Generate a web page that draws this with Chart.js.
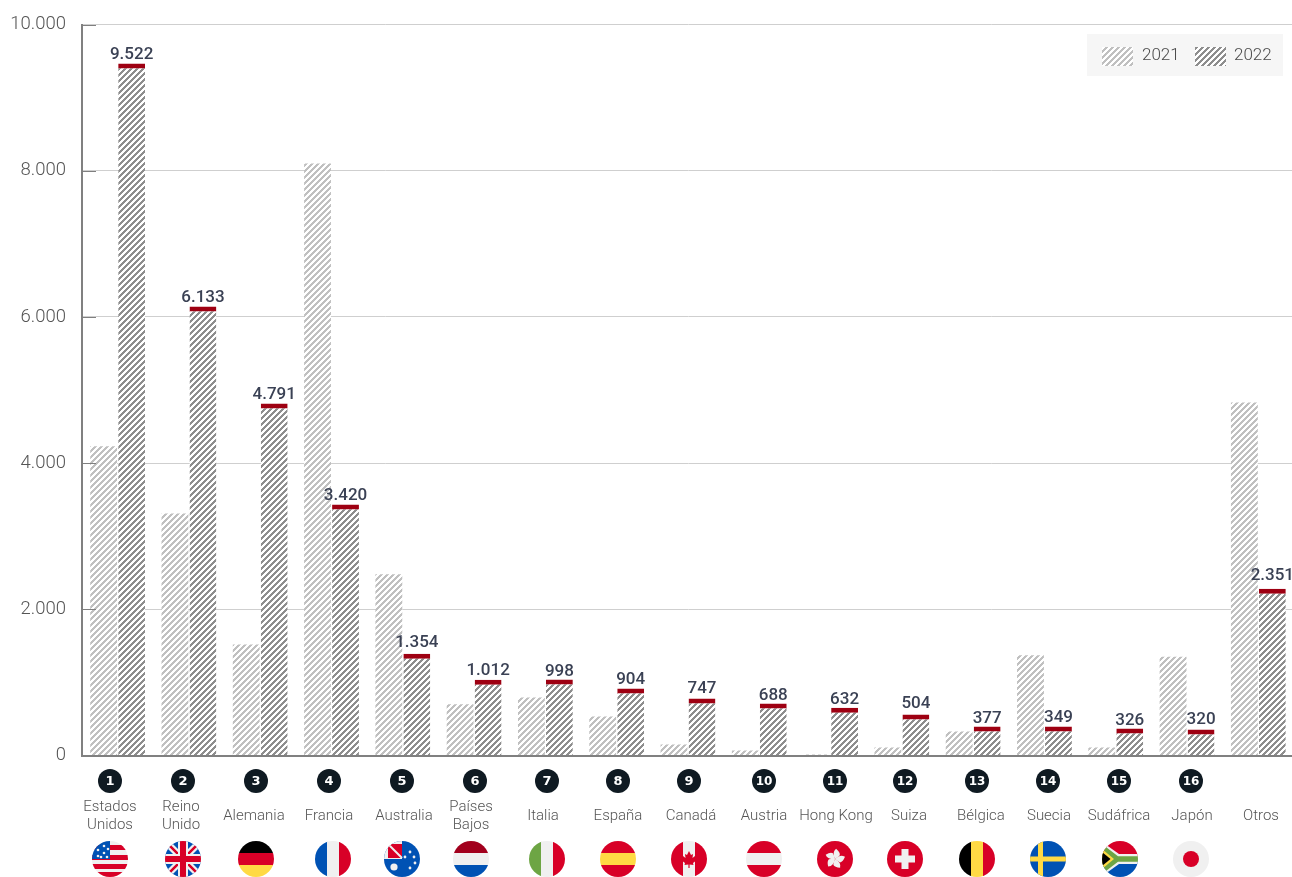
<!DOCTYPE html>
<html lang="es">
<head>
<meta charset="utf-8">
<title>Ventas por país</title>
<script src="https://cdn.jsdelivr.net/npm/chart.js@4/dist/chart.umd.min.js"></script>
<style>
  html, body { margin: 0; padding: 0; background: #fff; overflow: hidden; }
  #wrap { width: 1292px; height: 877px; overflow: hidden; }
  canvas { display: block; }
</style>
</head>
<body>
<div id="wrap"><canvas id="chart" width="1294" height="877"></canvas></div>
<script>
const categories = [['Estados', 'Unidos'], ['Reino', 'Unido'], ['Alemania'], ['Francia'], ['Australia'], ['Países', 'Bajos'], ['Italia'], ['España'], ['Canadá'], ['Austria'], ['Hong Kong'], ['Suiza'], ['Bélgica'], ['Suecia'], ['Sudáfrica'], ['Japón'], ['Otros']];
const values2021 = [4230, 3310, 1520, 8100, 2480, 700, 795, 535, 150, 70, 15, 110, 330, 1370, 110, 1350, 4830];
// bar heights as drawn in the picture; the printed labels differ slightly from them
const values2022 = [9466, 6142, 4815, 3433, 1391, 1035, 1040, 917, 780, 711, 652, 561, 397, 397, 369, 356, 2280];
const printed2022 = [9522, 6133, 4791, 3420, 1354, 1012, 998, 904, 747, 688, 632, 504, 377, 349, 326, 320, 2351];
const yTicks = [0, 2000, 4000, 6000, 8000, 10000];
const seriesNames = ['2021', '2022'];

// hand placed captions under the axis do not sit exactly on the bar groups
const labelX = [110, 181, 254, 329, 404, 471, 543, 618, 691, 764, 836, 909, 981, 1049, 1119, 1192, 1261];
const badgeX = [110, 183, 256, 329, 402, 475, 547, 618, 689, 764, 835, 905, 977, 1048, 1119, 1191];
const flagX = [110, 183, 256, 333, 402, 471, 547, 618, 689, 764, 835, 905, 977, 1048, 1120, 1191];
// distance from the top of a 2022 bar to the baseline of its label
const labelGap = [5, 5, 5, 5, 6.6, 5, 3, 4, 5, 4, 4, 6.3, 3.3, 4, 4, 5, 9.3];

const RED = '#d80027', WHITE = '#f0f0f0', BLUE = '#0052b4', YELLOW = '#ffda44', GREEN = '#6da544';

function formatNumber(n) {
  return String(n).replace(/\B(?=(\d{3})+$)/g, '.');
}

function hatch(color) {
  const tile = document.createElement('canvas');
  tile.width = tile.height = 6;
  const c = tile.getContext('2d');
  c.fillStyle = '#fff';
  c.fillRect(0, 0, 6, 6);
  c.fillStyle = color;
  for (let x = 0; x < 6; x++) {
    for (let y = 0; y < 6; y++) {
      if ((x + y) % 6 < 3) c.fillRect(x, y, 1, 1);
    }
  }
  return c.createPattern(tile, 'repeat');
}

function hBands(c, colors) {
  const h = 36 / colors.length;
  colors.forEach((col, i) => { c.fillStyle = col; c.fillRect(-18, -18 + i * h, 36, h + 0.5); });
}

function vBands(c, colors) {
  const w = 36 / colors.length;
  colors.forEach((col, i) => { c.fillStyle = col; c.fillRect(-18 + i * w, -18, w + 0.5, 36); });
}

function dot(c, x, y, r, col) {
  c.fillStyle = col;
  c.beginPath();
  c.arc(x, y, r, 0, Math.PI * 2);
  c.fill();
}

function poly(c, col, pts) {
  c.fillStyle = col;
  c.beginPath();
  pts.forEach(([x, y], i) => (i ? c.lineTo(x, y) : c.moveTo(x, y)));
  c.closePath();
  c.fill();
}

const flags = [
  function us(c) {
    c.fillStyle = WHITE; c.fillRect(-18, -18, 36, 36);
    c.fillStyle = RED;
    [[-14, 5], [-4, 5], [5, 5], [13, 5]].forEach(([y, h]) => c.fillRect(-18, y, 36, h));
    c.fillStyle = BLUE; c.fillRect(-18, -18, 18, 18);
    [[-12, -9], [-6, -13], [-6, -6], [-12, -3], [-3, -2], [-9, -2], [-2, -10]].forEach(([x, y]) => dot(c, x, y, 1.3, WHITE));
  },
  function uk(c) {
    c.fillStyle = BLUE; c.fillRect(-18, -18, 36, 36);
    c.strokeStyle = WHITE; c.lineWidth = 7;
    c.beginPath(); c.moveTo(-18, -18); c.lineTo(18, 18); c.moveTo(18, -18); c.lineTo(-18, 18); c.stroke();
    c.strokeStyle = RED; c.lineWidth = 2.5;
    c.beginPath(); c.moveTo(-18, -18); c.lineTo(18, 18); c.moveTo(18, -18); c.lineTo(-18, 18); c.stroke();
    c.fillStyle = WHITE; c.fillRect(-5, -18, 10, 36); c.fillRect(-18, -5, 36, 10);
    c.fillStyle = RED; c.fillRect(-3, -18, 6, 36); c.fillRect(-18, -3, 36, 6);
  },
  c => hBands(c, ['#000', RED, YELLOW]),
  c => vBands(c, [BLUE, WHITE, RED]),
  function au(c) {
    c.fillStyle = BLUE; c.fillRect(-18, -18, 36, 36);
    c.fillStyle = WHITE; c.fillRect(-18, -18, 18, 18);
    poly(c, RED, [[-14, -15], [0, -15], [0, -1], [-14, -1]]);
    c.strokeStyle = WHITE; c.lineWidth = 2;
    c.beginPath(); c.moveTo(-13, -14); c.lineTo(0, -1); c.stroke();
    [[8, -7], [3, -2], [12, -2], [8, 9], [13, 4]].forEach(([x, y]) => dot(c, x, y, 1.4, WHITE));
    dot(c, -8, 8, 3.6, WHITE);
  },
  c => hBands(c, ['#a2001d', WHITE, BLUE]),
  c => vBands(c, [GREEN, WHITE, RED]),
  c => { hBands(c, [RED, YELLOW, RED]); },
  function ca(c) {
    vBands(c, [RED, WHITE, RED]);
    poly(c, RED, [[0, -8], [2, -4], [4, -5], [3.5, -1], [6, -3], [7, 0], [8, 1], [4, 4], [4.5, 6], [0.6, 5.5], [0.6, 9], [-0.6, 9], [-0.6, 5.5], [-4.5, 6], [-4, 4], [-8, 1], [-7, 0], [-6, -3], [-3.5, -1], [-4, -5], [-2, -4]]);
  },
  c => hBands(c, [RED, WHITE, RED]),
  function hk(c) {
    c.fillStyle = RED; c.fillRect(-18, -18, 36, 36);
    c.fillStyle = WHITE;
    for (let i = 0; i < 5; i++) {
      c.save();
      c.rotate((i * 2 * Math.PI) / 5 + 0.3);
      c.beginPath();
      c.moveTo(0, 0);
      c.quadraticCurveTo(-5, -5, -2, -10);
      c.quadraticCurveTo(3, -8, 3.5, -5);
      c.quadraticCurveTo(2, -2, 0, 0);
      c.fill();
      c.restore();
    }
  },
  function ch(c) {
    c.fillStyle = RED; c.fillRect(-18, -18, 36, 36);
    c.fillStyle = WHITE; c.fillRect(-3.5, -10, 7, 20); c.fillRect(-10, -3.5, 20, 7);
  },
  c => vBands(c, ['#000', YELLOW, RED]),
  function se(c) {
    c.fillStyle = BLUE; c.fillRect(-18, -18, 36, 36);
    c.fillStyle = YELLOW; c.fillRect(-10, -18, 5, 36); c.fillRect(-18, -2.5, 36, 5);
  },
  function za(c) {
    c.fillStyle = RED; c.fillRect(-18, -18, 36, 18);
    c.fillStyle = BLUE; c.fillRect(-18, 0, 36, 18);
    poly(c, WHITE, [[-15, -15], [-1, -5], [18, -5], [18, 5], [-1, 5], [-15, 15]]);
    poly(c, GREEN, [[-18, -15], [-2, -2.8], [18, -2.8], [18, 2.8], [-2, 2.8], [-18, 15]]);
    poly(c, YELLOW, [[-18, -10], [-6, 0], [-18, 10]]);
    poly(c, '#000', [[-18, -7], [-9.5, 0], [-18, 7]]);
  },
  function jp(c) {
    c.fillStyle = WHITE; c.fillRect(-18, -18, 36, 36);
    dot(c, 0, 0, 8, RED);
  }
];

const decorations = {
  id: 'decorations',
  afterDraw(chart) {
    const c = chart.ctx;
    const { left } = chart.chartArea;
    c.save();

    // short darker tick just inside the axis
    const yScale = chart.scales.y;
    c.strokeStyle = '#7f7f7f';
    c.lineWidth = 1;
    yTicks.slice(1).forEach((t) => {
      const y = Math.round(yScale.getPixelForValue(t)) + 0.5;
      c.beginPath();
      c.moveTo(left, y);
      c.lineTo(left + 14, y);
      c.stroke();
    });

    // value labels on the 2022 bars
    c.font = '500 17px Roboto, sans-serif';
    c.fillStyle = '#3a4154';
    c.textAlign = 'center';
    c.textBaseline = 'alphabetic';
    chart.getDatasetMeta(1).data.forEach((bar, i) => {
      c.fillText(formatNumber(printed2022[i]), bar.x, bar.y - labelGap[i]);
    });

    // category captions
    c.textBaseline = 'middle';
    c.font = '300 15px Roboto, sans-serif';
    c.fillStyle = '#555';
    categories.forEach((lines, i) => {
      const top = lines.length === 2 ? 807 : 816;
      lines.forEach((line, k) => c.fillText(line, labelX[i], top + k * 18));
    });

    // ranking badges
    badgeX.forEach((x, i) => {
      dot(c, x, 781, 12, '#0f1a22');
      c.fillStyle = '#fff';
      c.font = `bold ${i < 9 ? 13 : 12}px "DejaVu Sans", sans-serif`;
      c.fillText(String(i + 1), x, 781.5);
    });

    // flags
    flagX.forEach((x, i) => {
      c.save();
      c.translate(x, 859);
      c.beginPath();
      c.arc(0, 0, 18, 0, Math.PI * 2);
      c.clip();
      flags[i](c);
      c.restore();
    });

    // legend box
    c.fillStyle = '#f6f6f6';
    c.fillRect(1087, 34, 196, 42);
    c.font = '300 17px Roboto, sans-serif';
    c.textAlign = 'left';
    [[1102, 1142], [1195, 1234]].forEach(([boxX, textX], i) => {
      c.fillStyle = chart.data.datasets[i].backgroundColor;
      c.fillRect(boxX, 47, 31, 19);
      c.fillStyle = '#4a4a4a';
      c.fillText(seriesNames[i], textX, 56);
    });
    c.restore();
  }
};

new Chart(document.getElementById('chart'), {
  type: 'bar',
  data: {
    labels: categories,
    datasets: [
      {
        label: seriesNames[0],
        data: values2021,
        backgroundColor: hatch('#c0c0c0'),
        borderWidth: 0
      },
      {
        label: seriesNames[1],
        data: values2022,
        backgroundColor: hatch('#8e8e8e'),
        borderColor: '#9e0012',
        borderWidth: { top: 5, right: 0, bottom: 0, left: 0 },
        borderSkipped: false
      }
    ]
  },
  options: {
    responsive: false,
    animation: false,
    events: [],
    categoryPercentage: 0.785,
    barPercentage: 0.96,
    layout: { padding: { top: 24.5, right: 0, bottom: 0, left: 0 } },
    plugins: { legend: { display: false }, tooltip: { enabled: false } },
    scales: {
      x: {
        grid: { display: false },
        border: { color: '#808080', width: 2 },
        ticks: { display: false },
        afterFit(scale) { scale.height = 121.5; }
      },
      y: {
        min: 0,
        max: 10000,
        afterBuildTicks(scale) { scale.ticks = yTicks.map((value) => ({ value })); },
        afterFit(scale) {
          scale.width = 82;
          scale.paddingTop = 0;
          scale.paddingBottom = 0;
        },
        grid: { color: '#cfcfcf', lineWidth: 1, drawTicks: false },
        border: { color: '#808080', width: 2 },
        ticks: {
          padding: 16,
          color: '#555',
          font: { family: 'Roboto, sans-serif', size: 18.5, weight: '300' },
          callback: (v) => formatNumber(v)
        }
      }
    }
  },
  plugins: [decorations]
});
</script>
</body>
</html>
